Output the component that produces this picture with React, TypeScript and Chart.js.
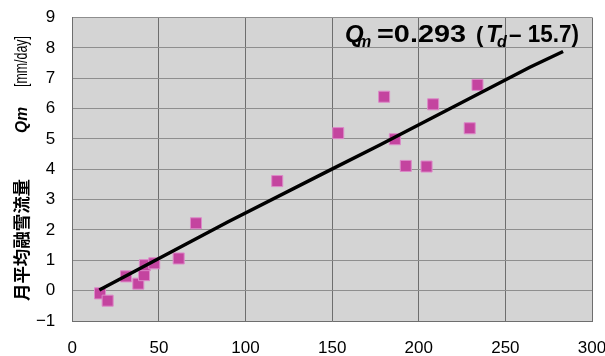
import { useEffect, useRef } from "react";
import { Chart, registerables } from "chart.js";

Chart.register(...registerables);

// Observed points: Td (x) and Qm (y)
const tdValues = [16.0, 20.4, 31.0, 38.1, 41.4, 41.9, 47.3, 61.4, 71.4, 118.3, 153.5, 180.0, 186.2, 192.5, 204.5, 208.3, 229.4, 233.9];
const qmValues = [-0.09, -0.33, 0.47, 0.23, 0.51, 0.84, 0.9, 1.06, 2.22, 3.61, 5.19, 6.39, 4.99, 4.11, 4.09, 6.14, 5.35, 6.78];

// Fitted line
const fitTd = [15.6, 90, 148.7, 177.5, 264.1, 283.3];
const fitQm = [0.02, 2.27, 3.97, 4.8, 7.36, 7.88];

// Axes
const xMin = 0;
const xMax = 300;
const xStep = 50;
const yMin = -1;
const yMax = 9;
const yStep = 1;

// Texts
const formulaParts = ["Q", "m", "=0.293", "（", "T", "d", "– 15.7)"];
const yTitleParts = ["月平均融雪流量", "Qm", "[mm/day]"];

const SANS = "'Liberation Sans', Arial, sans-serif";
const CJK = "'Noto Sans CJK JP', sans-serif";

function fitText(ctx: CanvasRenderingContext2D, text: string, x: number, y: number, font: string, width: number) {
  ctx.save();
  ctx.font = font;
  const w = ctx.measureText(text).width;
  ctx.translate(x, y);
  ctx.scale(width / w, 1);
  ctx.fillText(text, 0, 0);
  ctx.restore();
}

const bgPlugin = {
  id: "bgPlugin",
  beforeDraw(chart: any) {
    const { ctx, chartArea } = chart;
    ctx.save();
    ctx.fillStyle = "#ffffff";
    ctx.fillRect(0, 0, chart.width, chart.height);
    ctx.fillStyle = "#d4d4d4";
    ctx.fillRect(chartArea.left, chartArea.top, chartArea.right - chartArea.left, chartArea.bottom - chartArea.top);
    ctx.restore();
  },
};

const textPlugin = {
  id: "textPlugin",
  afterDraw(chart: any) {
    const ctx: CanvasRenderingContext2D = chart.ctx;
    ctx.save();
    ctx.fillStyle = "#000000";
    ctx.textAlign = "left";
    ctx.textBaseline = "alphabetic";
    // formula
    const base = 42;
    ctx.font = `italic bold 24px ${SANS}`;
    ctx.fillText(formulaParts[0], 345, base);
    ctx.font = `italic bold 16px ${SANS}`;
    ctx.fillText(formulaParts[1], 357, base + 5);
    fitText(ctx, formulaParts[2], 377, base, `bold 24px ${SANS}`, 89);
    ctx.font = `bold 22px ${SANS}`;
    ctx.fillText("(", 476, base);
    ctx.font = `italic bold 24px ${SANS}`;
    ctx.fillText(formulaParts[4], 486, base);
    ctx.font = `italic bold 16px ${SANS}`;
    ctx.fillText(formulaParts[5], 497, base + 5);
    fitText(ctx, formulaParts[6], 509, base, `bold 24px ${SANS}`, 70);

    // y axis title, rotated
    ctx.translate(22, 0);
    ctx.rotate(-Math.PI / 2);
    ctx.textBaseline = "middle";
    // in rotated frame, x = -pageY
    fitText(ctx, yTitleParts[0], -301, 0, `bold 17px ${CJK}`, 122);
    fitText(ctx, yTitleParts[1], -133, 0, `italic bold 17px ${SANS}`, 26);
    fitText(ctx, yTitleParts[2], -87, 0, `18px ${SANS}`, 51);
    ctx.restore();
  },
};

export default function App() {
  const ref = useRef<HTMLCanvasElement>(null);

  useEffect(() => {
    document.body.style.margin = "0";
    const canvas = ref.current!;
    const chart = new Chart(canvas, {
      type: "scatter",
      data: {
        datasets: [
          {
            type: "line",
            label: "fit",
            data: fitTd.map((x, i) => ({ x, y: fitQm[i] })),
            borderColor: "#000000",
            borderWidth: 3.5,
            pointRadius: 0,
            showLine: true,
            fill: false,
            tension: 0,
            order: 0,
          } as any,
          {
            label: "obs",
            data: tdValues.map((x, i) => ({ x, y: qmValues[i] })),
            pointStyle: "rect",
            pointRadius: 7.8,
            backgroundColor: "#c4449f",
            borderColor: "#dc8ac8",
            borderWidth: 1,
            order: 1,
          },
        ],
      },
      options: {
        responsive: false,
        animation: false,
        layout: { padding: { top: 17.5, right: 13, bottom: 0, left: 0 } },
        plugins: { legend: { display: false }, tooltip: { enabled: false } },
        scales: {
          x: {
            type: "linear",
            min: xMin,
            max: xMax,
            ticks: {
              stepSize: xStep,
              color: "#000000",
              font: { family: SANS, size: 17 },
              padding: 17,
            },
            grid: { color: "#6e6e6e", lineWidth: 1, drawTicks: false },
            border: { display: true, color: "#6e6e6e", width: 1 },
            afterFit: (s: any) => {
              s.height = 35;
              s.paddingLeft = 0;
              s.paddingRight = 0;
            },
          },
          y: {
            type: "linear",
            min: yMin,
            max: yMax,
            ticks: {
              stepSize: yStep,
              color: "#000000",
              font: { family: SANS, size: 17 },
              padding: 17,
              callback: (v: any) => (Number(v) < 0 ? "−" + Math.abs(Number(v)) : String(v)),
            },
            grid: { color: "#8e8e8e", lineWidth: 1, drawTicks: false },
            border: { display: true, color: "#6e6e6e", width: 1 },
            afterFit: (s: any) => {
              s.width = 72.3;
              s.paddingTop = 0;
              s.paddingBottom = 0;
            },
          },
        },
      },
      plugins: [bgPlugin, textPlugin],
    });
    return () => chart.destroy();
  }, []);

  return (
    <div style={{ position: "absolute", left: 0, top: 0, width: 605, height: 356 }}>
      <canvas ref={ref} width={605} height={356} />
    </div>
  );
}
